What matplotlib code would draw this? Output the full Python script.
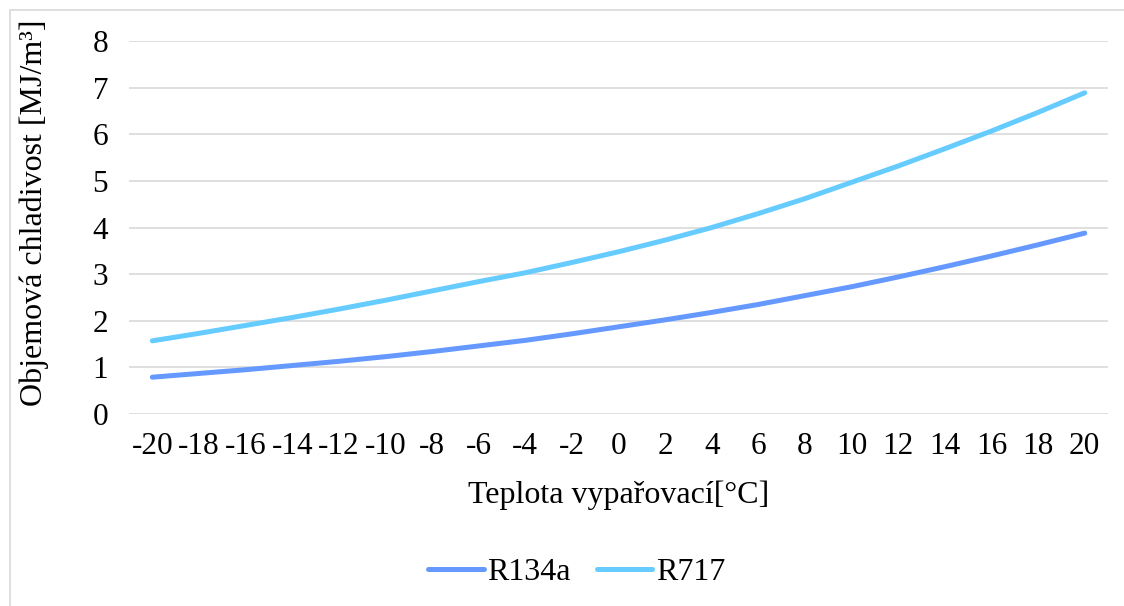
import matplotlib.pyplot as plt
from matplotlib.patches import Rectangle

temps = [-20, -18, -16, -14, -12, -10, -8, -6, -4, -2, 0, 2, 4, 6, 8, 10, 12, 14, 16, 18, 20]
r134a = [0.79, 0.87, 0.95, 1.04, 1.13, 1.23, 1.34, 1.46, 1.58, 1.72, 1.87,
         2.02, 2.18, 2.35, 2.54, 2.73, 2.94, 3.16, 3.39, 3.63, 3.88]
r717 = [1.57, 1.73, 1.90, 2.07, 2.25, 2.44, 2.64, 2.84, 3.03, 3.25, 3.48,
        3.73, 4.00, 4.30, 4.62, 4.97, 5.32, 5.69, 6.07, 6.47, 6.89]

plt.rcParams['font.family'] = ['Liberation Serif', 'DejaVu Serif']

fig = plt.figure(figsize=(11.24, 6.06), dpi=100)
ax = fig.add_axes([0.1148, 0.3168, 0.871, 0.6155])

x = list(range(len(temps)))
ax.plot(x, r134a, color='#6699FF', linewidth=3.6, solid_capstyle='round', label='R134a')
ax.plot(x, r717, color='#66CCFF', linewidth=3.6, solid_capstyle='round', label='R717')

ax.set_xlim(-0.5, len(temps) - 0.5)
ax.set_ylim(0, 8)
ax.set_yticks(range(0, 9))
ax.set_xticks(x)
ax.set_xticklabels([str(t) for t in temps])
ax.tick_params(axis='both', length=0, labelsize=22.5, colors='black')
ax.tick_params(axis='y', pad=15)
ax.tick_params(axis='x', pad=13)

ax.set_axisbelow(True)
ax.grid(axis='y', color='#D9D9D9', linewidth=1.2)
[ax.spines[side].set_visible(False) for side in ax.spines]

ax.set_xlabel('Teplota vypařovací[°C]', fontsize=23, labelpad=14)
ax.set_ylabel('Objemová chladivost [MJ/m³]', fontsize=23)
ax.yaxis.set_label_coords(-0.082, 0.54)

fig.legend(loc='center', bbox_to_anchor=(0.513, 0.055), ncol=2, frameon=False,
           fontsize=23, handlelength=1.75, handletextpad=0.1, columnspacing=0.8)

fig.patches.append(Rectangle((10 / 1124, -0.1), 1.2, (596 / 606) + 0.1,
                             transform=fig.transFigure, fill=False,
                             edgecolor='#D9D9D9', linewidth=1.2))

plt.savefig('out.png', dpi=100)
